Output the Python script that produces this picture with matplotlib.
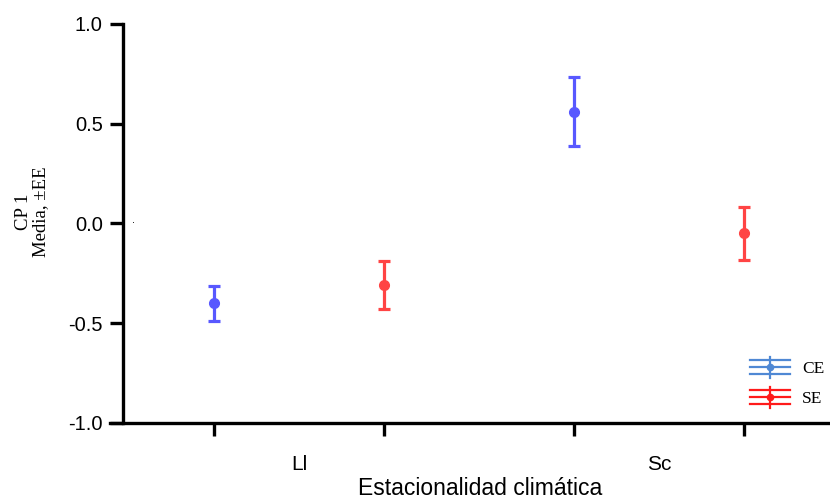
import matplotlib.pyplot as plt
import numpy as np
from matplotlib.legend_handler import HandlerBase
from matplotlib.lines import Line2D

# CP 1 means and standard errors by climatic seasonality
groups = ['Ll', 'Sc']
ce_mean = [-0.40, 0.56]
ce_err = [0.088, 0.173]
se_mean = [-0.31, -0.05]
se_err = [0.12, 0.134]

ce_col = '#5858ff'
se_col = '#ff4444'


class ErrHandler(HandlerBase):
    # legend key: three horizontal strokes with a vertical bar and a dot
    def create_artists(self, legend, orig, xd, yd, w, h, fontsize, trans):
        c = orig.get_color()
        arts = []
        for dy in (0.0, 0.5, 1.0):
            y = -yd + h * dy
            arts.append(Line2D([-xd, -xd + w], [y, y], color=c, lw=1.6, transform=trans))
        xm = -xd + w / 2
        arts.append(Line2D([xm, xm], [-yd - h * 0.3, -yd + h * 1.2], color=c, lw=1.6, transform=trans))
        arts.append(Line2D([xm], [-yd + h / 2], marker='o', ms=4.5, color=c, transform=trans))
        return arts


fig = plt.figure(figsize=(8.3, 4.99), dpi=100)
ax = fig.add_axes([110 / 830, 1 - 423 / 499, 720 / 830, 399 / 499])

x = np.arange(len(groups))
off = 85 / 360
ax.errorbar(x - off, ce_mean, yerr=ce_err, fmt='o', color=ce_col, ms=7,
            elinewidth=2.3, capsize=4.5, capthick=2.3)
ax.errorbar(x + off, se_mean, yerr=se_err, fmt='o', color=se_col, ms=7,
            elinewidth=2.3, capsize=4.5, capthick=2.3)

ax.set_xlim(-0.525, 1.475)
ax.set_ylim(-1.0, 1.0)
ax.spines['left'].set_position(('data', -0.489))
ax.spines['top'].set_visible(False)
ax.spines['right'].set_visible(False)
for s in ('left', 'bottom'):
    ax.spines[s].set_linewidth(2.4)

ax.set_yticks([-1.0, -0.5, 0.0, 0.5, 1.0])
ax.set_yticklabels(['-1.0', '-0.5', '0.0', '0.5', '1.0'])
ax.set_xticks([x[0] - off, x[0] + off, x[1] - off, x[1] + off])
ax.set_xticklabels([])
ax.tick_params(axis='both', length=9.5, width=2.4, direction='out',
               labelsize=14.5, labelfontfamily='Liberation Sans')
ax.tick_params(axis='y', pad=5)

# group names under each pair of ticks
for xi, g in zip(x, groups):
    ax.text(xi, -1.236, g, ha='center', va='baseline',
            fontsize=15, family='Liberation Sans')

ax.text(0.514, -0.18, 'Estacionalidad climática', transform=ax.transAxes,
        ha='center', va='baseline', fontsize=16.5, family='Liberation Sans')
fig.text(32 / 830, 1 - 212 / 499, 'CP 1\nMedia, \u00b1EE', rotation=90,
         ha='center', va='center', fontsize=13.5, family='Liberation Serif',
         linespacing=1.05)
ax.text(-0.461, 0.0, '.', fontsize=7, ha='center', va='baseline')

h1 = Line2D([], [], color='#4f88d4')
h2 = Line2D([], [], color='#ff1a1a')
ax.legend([h1, h2], ['CE', 'SE'], handler_map={Line2D: ErrHandler()},
          loc='upper left', bbox_to_anchor=(750 / 830, 1 - 360 / 499),
          bbox_transform=fig.transFigure, frameon=False, borderpad=0,
          borderaxespad=0,
          prop={'family': 'Liberation Serif', 'size': 12.5},
          handlelength=2.3, handleheight=0.85, labelspacing=0.75,
          handletextpad=0.7)

fig.savefig('out.png', dpi=100)
